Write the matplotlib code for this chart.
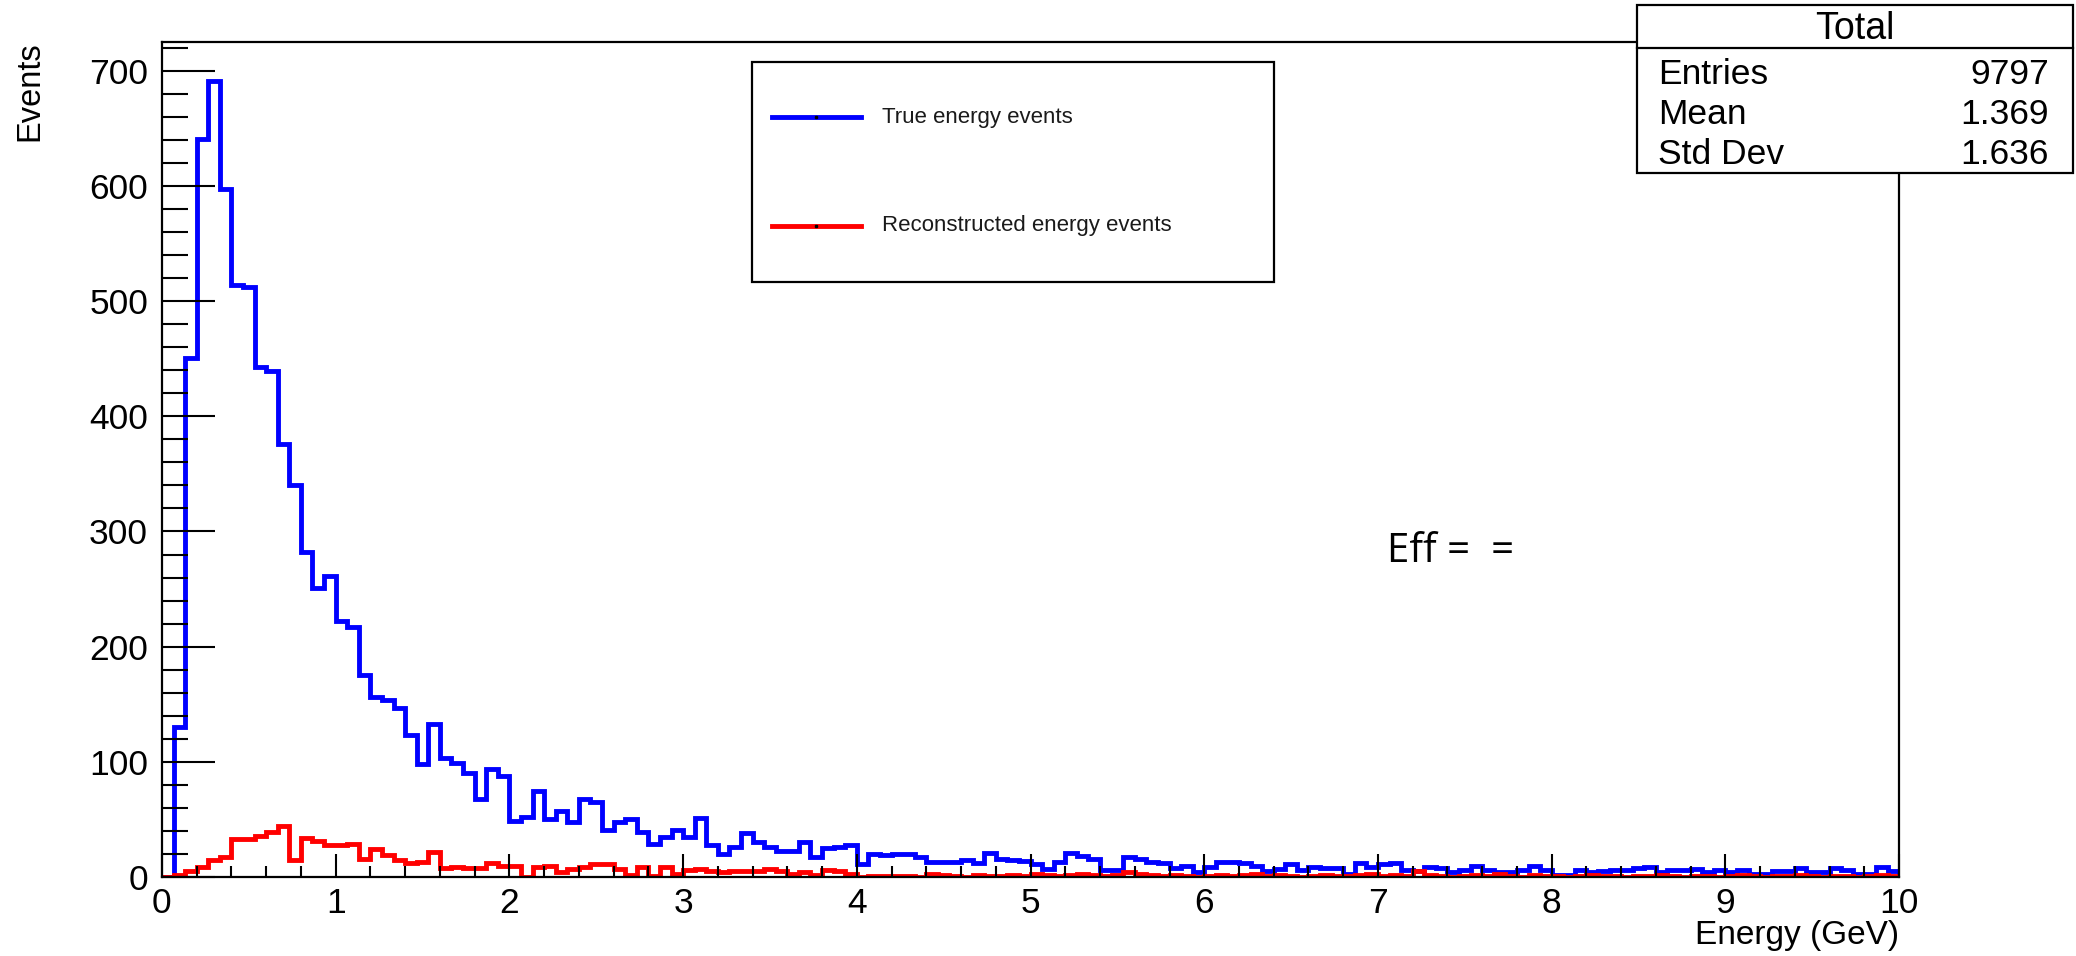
import numpy as np
import matplotlib
matplotlib.use("Agg")
import matplotlib.pyplot as plt
from matplotlib.patches import Rectangle
from matplotlib.lines import Line2D

plt.rcParams['font.family'] = ['Liberation Sans', 'DejaVu Sans']

# histogram binning: 150 bins from 0 to 10 GeV
x_min, x_max, n_bins = 0.0, 10.0, 150

true_counts = [
    0, 130, 451, 641, 691, 597, 514, 512, 443, 439,
    376, 340, 282, 251, 261, 222, 217, 175, 156, 154,
    147, 123, 98, 133, 103, 99, 90, 68, 94, 88,
    49, 52, 75, 50, 57, 48, 68, 65, 41, 48,
    50, 39, 29, 35, 41, 35, 51, 28, 20, 26,
    38, 30, 26, 23, 23, 30, 17, 25, 26, 28,
    11, 20, 19, 20, 20, 17, 13, 13, 13, 15,
    12, 21, 16, 15, 14, 11, 7, 13, 21, 18,
    16, 6, 6, 17, 16, 13, 12, 8, 10, 4,
    9, 13, 13, 12, 10, 5, 7, 11, 6, 9,
    8, 8, 3, 12, 9, 11, 12, 6, 5, 9,
    8, 4, 6, 10, 6, 4, 4, 6, 10, 6,
    2, 2, 6, 4, 5, 6, 6, 8, 9, 4,
    6, 6, 7, 4, 6, 4, 6, 3, 3, 5,
    5, 8, 4, 4, 8, 6, 3, 3, 9, 5,
]

reco_counts = [
    0, 2, 5, 9, 15, 17, 33, 33, 36, 39,
    44, 15, 34, 31, 28, 28, 29, 16, 24, 19,
    15, 12, 13, 22, 8, 9, 8, 8, 12, 10,
    10, 0, 9, 10, 4, 7, 9, 11, 11, 7,
    2, 9, 1, 9, 3, 6, 7, 5, 4, 5,
    5, 5, 7, 5, 3, 4, 2, 6, 5, 3,
    0, 1, 1, 1, 1, 0, 3, 2, 1, 0,
    2, 1, 1, 2, 1, 3, 2, 1, 2, 3,
    2, 1, 2, 4, 3, 2, 1, 2, 1, 0,
    1, 2, 1, 2, 3, 1, 2, 1, 0, 1,
    2, 1, 1, 2, 3, 1, 2, 1, 5, 2,
    1, 0, 1, 2, 1, 3, 1, 0, 2, 1,
    1, 0, 1, 2, 1, 1, 0, 1, 1, 2,
    1, 0, 1, 1, 0, 1, 2, 1, 0, 1,
    1, 2, 1, 0, 1, 1, 0, 1, 2, 1,
]

legend_labels = ["True energy events", "Reconstructed energy events"]
stats_title = "Total"
stats_rows = [("Entries", "9797"), ("Mean", "1.369"), ("Std Dev", "1.636")]

edges = np.linspace(x_min, x_max, n_bins + 1)

fig = plt.figure(figsize=(20.76, 9.56), dpi=100)
ax = fig.add_axes([0.078, 0.0826, 0.8368, 0.8735])

ax.stairs(true_counts, edges, color=(0, 0, 1), lw=3.5)
ax.stairs(reco_counts, edges, color=(1, 0, 0), lw=3.5)

ax.set_xlim(x_min, x_max)
ax.set_ylim(0, 725)

ax.set_xticks(np.arange(0, 11, 1))
ax.set_xticks(np.arange(0, 10.01, 0.2), minor=True)
ax.set_yticks(np.arange(0, 701, 100))
ax.set_yticks(np.arange(0, 721, 20), minor=True)

ax.tick_params(axis='y', which='major', direction='in', length=38, width=1.5,
               labelsize=25.5, pad=10)
ax.tick_params(axis='y', which='minor', direction='in', length=19, width=1.5)
ax.tick_params(axis='x', which='major', direction='in', length=16.5, width=1.5,
               labelsize=25.5, pad=7)
ax.tick_params(axis='x', which='minor', direction='in', length=8, width=1.5)

for s in ax.spines.values():
    s.set_linewidth(1.6)

ax.set_xlabel("Energy (GeV)", fontsize=24, loc='right', labelpad=0)
fig.text(0.0145, 0.957, "Events", rotation=90, fontsize=23.5,
         ha='center', va='top')

# legend box
leg_x0, leg_y0 = 752 / 2076, 1 - 282 / 956
leg_w, leg_h = (1274 - 752) / 2076, (282 - 62) / 956
fig.add_artist(Rectangle((leg_x0, leg_y0), leg_w, leg_h, transform=fig.transFigure,
                         facecolor='white', edgecolor='black', lw=1.6, zorder=5))
for lab, col, yy in zip(legend_labels, [(0, 0, 1), (1, 0, 0)], [117, 226]):
    fy = 1 - yy / 956
    fig.add_artist(Line2D([772 / 2076, 861 / 2076], [fy, fy], color=col, lw=3.5,
                          transform=fig.transFigure, zorder=6))
    fig.add_artist(Line2D([816 / 2076], [fy], marker='s', markersize=1.5, color='black',
                          transform=fig.transFigure, zorder=7))
    fig.text(882 / 2076, fy, lab, fontsize=16, ha='left', va='center',
             color='#1a1a1a', zorder=7)

# stats box
sb_x0, sb_x1 = 1637 / 2076, 2073 / 2076
sb_top, sb_bot, sb_sep = 1 - 5 / 956, 1 - 173 / 956, 1 - 48 / 956
fig.add_artist(Rectangle((sb_x0, sb_bot), sb_x1 - sb_x0, sb_top - sb_bot,
                         transform=fig.transFigure, facecolor='white',
                         edgecolor='black', lw=1.6, zorder=5))
fig.add_artist(Line2D([sb_x0, sb_x1], [sb_sep, sb_sep], color='black', lw=1.6,
                      transform=fig.transFigure, zorder=6))
fig.text((sb_x0 + sb_x1) / 2, 1 - 29 / 956, stats_title, fontsize=27,
         ha='center', va='center', zorder=7)
for (name, val), yy in zip(stats_rows, [74, 115, 155]):
    fig.text(1658 / 2076, 1 - yy / 956, name, fontsize=25.5, ha='left', va='center', zorder=7)
    fig.text(2049 / 2076, 1 - yy / 956, val, fontsize=25.5, ha='right', va='center', zorder=7)

fig.text(1387 / 2076, 1 - 552 / 956, "Eff =  =", fontsize=29, family='Open Sans',
         ha='left', va='center')

fig.savefig("out.png", dpi=100)
